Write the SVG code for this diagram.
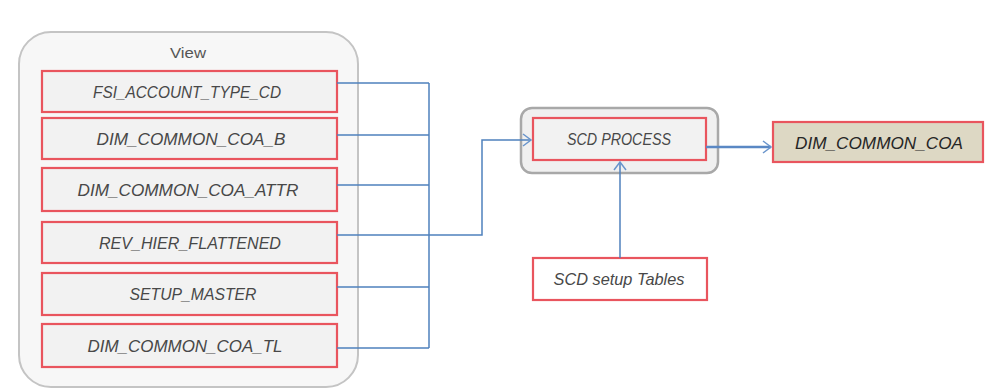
<svg xmlns="http://www.w3.org/2000/svg" width="988" height="390" viewBox="0 0 988 390">
<defs>
<style>
.cont{fill:#f7f7f7;stroke:#c4c4c4;stroke-width:2}
.scdc{fill:#f0f0f0;stroke:#a8a8a8;stroke-width:2.5}
.rb{fill:#f2f2f2;stroke:#e9555e;stroke-width:2.2}
.rw{fill:#ffffff;stroke:#e9555e;stroke-width:2.2}
.rt{fill:#ddd8c4;stroke:#e9555e;stroke-width:2.2}
.t{font-family:"Liberation Sans",Arial,sans-serif;font-style:italic;font-size:16.5px;fill:#484848;text-anchor:middle;dominant-baseline:central}
.v{font-style:normal;font-size:14px;fill:#555}
.d{fill:#262626}
.c{fill:none;stroke:#4f81bd;stroke-width:1.5}
.ct{fill:none;stroke:#5a88c4;stroke-width:2.5}
</style>
<marker id="ah" markerWidth="12" markerHeight="14" refX="10" refY="7" orient="auto" markerUnits="userSpaceOnUse">
<path d="M2,1 L10,7 L2,13" fill="none" stroke="#6a95cc" stroke-width="1.5"/>
</marker>
</defs>
<rect width="988" height="390" fill="#ffffff"/>

<g id="view">
<rect class="cont" x="19" y="32" width="339" height="355" rx="32" ry="32"/>
<text class="t v" x="188" y="53" textLength="36" lengthAdjust="spacingAndGlyphs">View</text>
</g>
<g id="n1"><rect class="rb" x="42" y="71" width="295" height="41"/><text class="t" x="187" y="91.5" textLength="188" lengthAdjust="spacingAndGlyphs">FSI_ACCOUNT_TYPE_CD</text></g>
<g id="n2"><rect class="rb" x="42" y="118" width="295" height="41"/><text class="t" x="191" y="138.5" textLength="189" lengthAdjust="spacingAndGlyphs">DIM_COMMON_COA_B</text></g>
<g id="n3"><rect class="rb" x="42" y="168" width="295" height="43"/><text class="t" x="188" y="189.5" textLength="221" lengthAdjust="spacingAndGlyphs">DIM_COMMON_COA_ATTR</text></g>
<g id="n4"><rect class="rb" x="42" y="222" width="295" height="41"/><text class="t" x="190" y="242.5" textLength="182" lengthAdjust="spacingAndGlyphs">REV_HIER_FLATTENED</text></g>
<g id="n5"><rect class="rb" x="42" y="273" width="295" height="42"/><text class="t" x="193" y="294" textLength="127" lengthAdjust="spacingAndGlyphs">SETUP_MASTER</text></g>
<g id="n6"><rect class="rb" x="42" y="324" width="295" height="43"/><text class="t" x="185" y="345.5" textLength="195" lengthAdjust="spacingAndGlyphs">DIM_COMMON_COA_TL</text></g>

<g id="scd-container"><rect class="scdc" x="521" y="108" width="197" height="65" rx="11" ry="11"/></g>
<g id="scd-process"><rect class="rb" x="533" y="118" width="173" height="42"/><text class="t" x="619" y="138.5" textLength="104" lengthAdjust="spacingAndGlyphs">SCD PROCESS</text></g>
<g id="dim-common-coa"><rect class="rt" x="773" y="122" width="210" height="40"/><text class="t d" x="879" y="143" textLength="168" lengthAdjust="spacingAndGlyphs">DIM_COMMON_COA</text></g>
<g id="scd-setup"><rect class="rw" x="533" y="258" width="174" height="42"/><text class="t" x="619" y="279" textLength="131" lengthAdjust="spacingAndGlyphs">SCD setup Tables</text></g>

<g id="connectors">
<path class="c" d="M337,83 H429 M337,135 H429 M337,185 H429 M337,287 H429 M337,348 H429 M429,83 V348"/>
<path class="c" d="M337,235 H482 V140 H531" marker-end="url(#ah)"/>
<path class="ct" d="M706,147 H771" marker-end="url(#ah)"/>
<path class="c" d="M620,258 V162" marker-end="url(#ah)"/>
</g>
</svg>
